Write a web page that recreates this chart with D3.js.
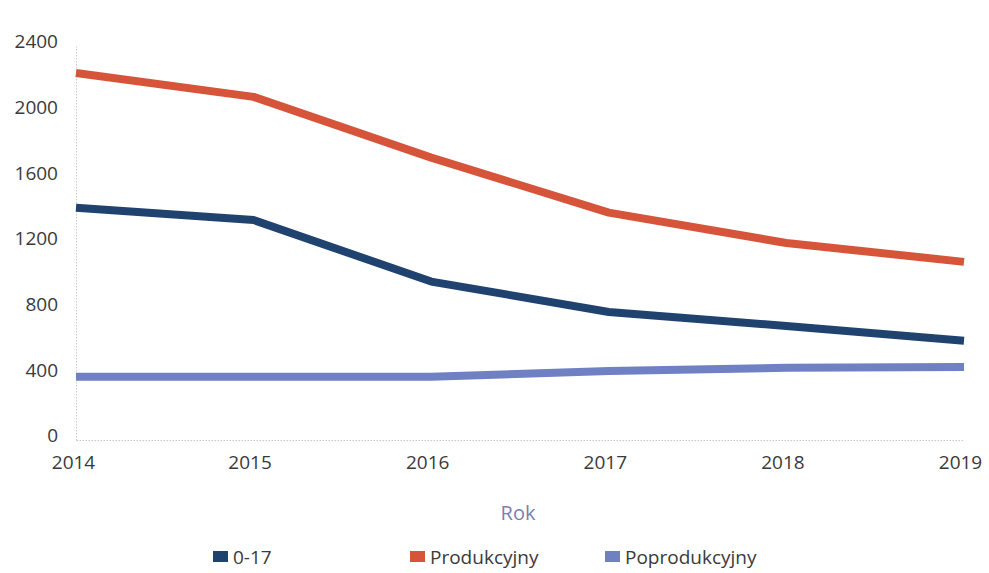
<!DOCTYPE html>
<html>
<head>
<meta charset="utf-8">
<script src="https://cdn.jsdelivr.net/npm/d3@7"></script>
<style>
	body { margin: 0; background: #fff; }
	svg { font-family: "Open Sans", "Noto Sans", sans-serif; }
	.axis text { fill: #3a3a3a; font-size: 19px; font-family: "Open Sans", "Noto Sans", sans-serif; }
	.axis path, .axis line { stroke: #c8c8c8; stroke-dasharray: 1.5 1.5; }
</style>
</head>
<body>
<div class="chart"></div>
<script>
const years = [2014, 2015, 2016, 2017, 2018, 2019];
const yTicks = [0, 400, 800, 1200, 1600, 2000, 2400];
const seriesNames = ["0-17", "Produkcyjny", "Poprodukcyjny"];
const seriesColors = ["#1f436e", "#d6553a", "#6f80c3"];
const values017 = [1415, 1340, 965, 780, 695, 605];
const valuesProd = [2235, 2090, 1720, 1385, 1200, 1085];
const valuesPoprod = [385, 385, 385, 420, 440, 445];

const series = [values017, valuesProd, valuesPoprod].map((v, i) => ({
	name: seriesNames[i],
	color: seriesColors[i],
	values: v
}));

const margin = {top: 46, right: 25, bottom: 133, left: 76},
	width = 989 - margin.left - margin.right,
	height = 573 - margin.top - margin.bottom;

const svg = d3.select(".chart").append("svg")
	.attr("width", 989)
	.attr("height", 573);

const g = svg.append("g")
	.attr("transform", "translate(" + margin.left + "," + margin.top + ")");

const x = d3.scaleLinear()
	.domain(d3.extent(years))
	.range([0, width]);

const y = d3.scaleLinear()
	.domain([0, 2400])
	.range([height, 0]);

// y axis (dotted left line, labels)
g.append("g")
	.attr("class", "axis")
	.call(d3.axisLeft(y).tickValues(yTicks).tickFormat(d3.format("d")).tickSize(0).tickPadding(18))
	.call(a => a.selectAll("text").attr("dy", "0.1em"));

// x axis (dotted baseline, labels)
g.append("g")
	.attr("class", "axis")
	.attr("transform", "translate(0," + height + ")")
	.call(d3.axisBottom(x).tickValues(years).tickFormat(d3.format("d")).tickSize(0).tickPadding(16))
	.call(a => a.selectAll("text").attr("dx", (d, i) => i === 0 ? "-3" : "-4"));

g.append("text")
	.attr("x", width / 2 - 2)
	.attr("y", height + 80)
	.attr("text-anchor", "middle")
	.style("font-size", "20px")
	.style("fill", "#7a7fb2")
	.text("Rok");

const line = d3.line()
	.x((d, i) => x(years[i]))
	.y(d => y(d));

g.selectAll(".series")
	.data(series)
	.enter().append("path")
	.attr("class", "series")
	.attr("fill", "none")
	.attr("stroke", d => d.color)
	.attr("stroke-width", 8)
	.attr("stroke-linejoin", "round")
	.attr("d", d => line(d.values));

// legend
const legendX = [213, 410, 605];
const legend = svg.selectAll(".legend")
	.data(series)
	.enter().append("g")
	.attr("class", "legend")
	.attr("transform", (d, i) => "translate(" + legendX[i] + ",557)");

legend.append("rect")
	.attr("x", 0)
	.attr("y", -6)
	.attr("width", 15)
	.attr("height", 11)
	.attr("fill", d => d.color);

legend.append("text")
	.attr("x", 20)
	.attr("y", 0)
	.attr("dy", "0.35em")
	.style("font-size", "19px")
	.style("fill", "#3a3a3a")
	.text(d => d.name);
</script>
</body>
</html>
